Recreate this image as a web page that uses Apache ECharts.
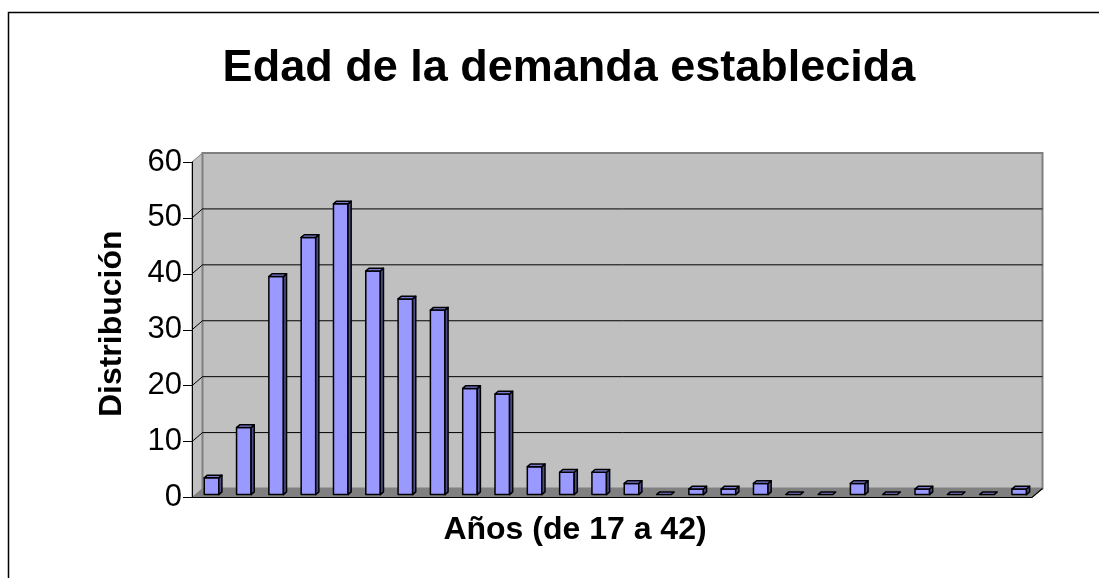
<!DOCTYPE html>
<html>
<head>
<meta charset="utf-8">
<script src="https://cdn.jsdelivr.net/npm/echarts@6/dist/echarts.min.js"></script>
<style>
  html, body { margin: 0; padding: 0; background: #ffffff; }
  #chart { width: 1099px; height: 578px; }
</style>
</head>
<body>
<div id="chart"></div>
<script>
// Edades (17 a 42) y número de casos por edad
const edades = ['17','18','19','20','21','22','23','24','25','26','27','28','29',
                '30','31','32','33','34','35','36','37','38','39','40','41','42'];
const distribucion = [3, 12, 39, 46, 52, 40, 35, 33, 19, 18, 5, 4, 4,
                      2, 0, 1, 1, 2, 0, 0, 2, 0, 1, 0, 0, 1];
const marcasY = [0, 10, 20, 30, 40, 50, 60];

// Perspective of the 3D box: offset from the front plane to the back wall (px)
const PROF = [10.5, -9];
const BARRA_FRENTE = 0.32;   // depth fraction where the bar front face sits
const BARRA_FONDO = 0.62;    // depth fraction of the bar back face
const BARRA_ANCHO = 0.45;    // bar width as a fraction of the category band

const FUENTE = "'Liberation Sans', Arial, sans-serif";

function renderFondo(params, api) {
  const cs = params.coordSys;
  const x0 = cs.x, y0 = cs.y, w = cs.width, h = cs.height;
  const dx = PROF[0], dy = PROF[1];
  const hijos = [];
  // side wall
  hijos.push({ type: 'polygon',
    shape: { points: [[x0, y0], [x0 + dx, y0 + dy], [x0 + dx, y0 + h + dy], [x0, y0 + h]] },
    style: { fill: '#c0c0c0', stroke: '#808080', lineWidth: 1 } });
  // back wall
  hijos.push({ type: 'rect',
    shape: { x: x0 + dx, y: y0 + dy, width: w, height: h },
    style: { fill: '#c0c0c0', stroke: '#808080', lineWidth: 2 } });
  // gridlines on the back wall and side wall
  marcasY.forEach(function (v) {
    if (v === marcasY[0] || v === marcasY[marcasY.length - 1]) return;
    const y = api.coord([0, v])[1];
    hijos.push({ type: 'line',
      shape: { x1: x0 + dx, y1: y + dy, x2: x0 + w + dx, y2: y + dy },
      style: { stroke: '#000000', lineWidth: 1 } });
    hijos.push({ type: 'line',
      shape: { x1: x0, y1: y, x2: x0 + dx, y2: y + dy },
      style: { stroke: '#000000', lineWidth: 1 } });
  });
  // floor
  hijos.push({ type: 'polygon',
    shape: { points: [[x0, y0 + h], [x0 + w, y0 + h], [x0 + w + dx, y0 + h + dy], [x0 + dx, y0 + h + dy]] },
    style: { fill: '#808080', stroke: null } });
  hijos.push({ type: 'polyline',
    shape: { points: [[x0, y0 + h], [x0 + w, y0 + h], [x0 + w + dx, y0 + h + dy]] },
    style: { stroke: '#000000', lineWidth: 1.2, fill: null } });
  return { type: 'group', children: hijos };
}

function renderBarra(params, api) {
  const i = api.value(0), v = api.value(1);
  const base = api.coord([i, 0]);
  const cima = api.coord([i, v]);
  const bw = api.size([1, 0])[0] * BARRA_ANCHO;
  const dx = PROF[0], dy = PROF[1];
  const fx = base[0] - bw / 2 + dx * BARRA_FRENTE;
  const yB = base[1] + dy * BARRA_FRENTE;
  const yT = cima[1] + dy * BARRA_FRENTE;
  const ddx = dx * (BARRA_FONDO - BARRA_FRENTE);
  const ddy = dy * (BARRA_FONDO - BARRA_FRENTE);
  const borde = { stroke: '#000000', lineWidth: 1.5, lineJoin: 'round' };
  const hijos = [];
  if (v > 0) {
    hijos.push({ type: 'rect', shape: { x: fx, y: yT, width: bw, height: yB - yT },
      style: Object.assign({ fill: '#9999ff' }, borde) });
    hijos.push({ type: 'polygon',
      shape: { points: [[fx + bw, yT], [fx + bw + ddx, yT + ddy], [fx + bw + ddx, yB + ddy], [fx + bw, yB]] },
      style: Object.assign({ fill: '#4d4d88' }, borde) });
  }
  hijos.push({ type: 'polygon',
    shape: { points: [[fx, yT], [fx + ddx, yT + ddy], [fx + bw + ddx, yT + ddy], [fx + bw, yT]] },
    style: Object.assign({ fill: '#7b7bd6' }, borde) });
  return { type: 'group', children: hijos };
}

const chart = echarts.init(document.getElementById('chart'), null, { renderer: 'canvas' });

chart.setOption({
  backgroundColor: '#ffffff',
  animation: false,
  title: {
    text: 'Edad de la demanda establecida',
    left: 564,
    top: 41,
    textAlign: 'center',
    textStyle: { fontFamily: FUENTE, fontSize: 45, fontWeight: 'bold', color: '#000000' }
  },
  graphic: [{
    type: 'rect',
    shape: { x: 8.5, y: 12.5, width: 1200, height: 700 },
    style: { fill: null, stroke: '#000000', lineWidth: 1.5 },
    z: -1
  }],
  grid: {
    left: 192, top: 162, width: 840, height: 335.5,
    containLabel: false,
    outerBoundsMode: 'none'
  },
  xAxis: {
    type: 'category',
    data: edades,
    name: 'Años (de 17 a 42)',
    nameLocation: 'middle',
    nameGap: 17,
    nameTextStyle: { fontFamily: FUENTE, fontSize: 32, fontWeight: 'bold', color: '#000000',
                     padding: [0, 74, 0, 0] },
    axisLine: { show: false },
    axisTick: { show: false },
    axisLabel: { show: false },
    splitLine: { show: false }
  },
  yAxis: {
    type: 'value',
    min: 0, max: 60, interval: 10,
    z: 10,
    name: 'Distribución',
    nameLocation: 'middle',
    nameRotate: 90,
    nameGap: 64,
    nameTextStyle: { fontFamily: FUENTE, fontSize: 32, fontWeight: 'bold', color: '#000000',
                     padding: [0, 0, 0, 12] },
    axisLine: { show: true, lineStyle: { color: '#000000', width: 1 } },
    axisTick: { show: true, inside: false, length: 9, lineStyle: { color: '#000000', width: 1 } },
    axisLabel: { fontFamily: FUENTE, fontSize: 31, color: '#000000', margin: 10 },
    splitLine: { show: false }
  },
  series: [
    {
      name: 'fondo',
      type: 'custom',
      renderItem: renderFondo,
      data: [[0, 0]],
      clip: false,
      silent: true,
      z: 1
    },
    {
      name: 'Distribución',
      type: 'custom',
      renderItem: renderBarra,
      data: distribucion.map(function (v, i) { return [i, v]; }),
      encode: { x: 0, y: 1 },
      clip: false,
      z: 3
    }
  ]
});
</script>
</body>
</html>
